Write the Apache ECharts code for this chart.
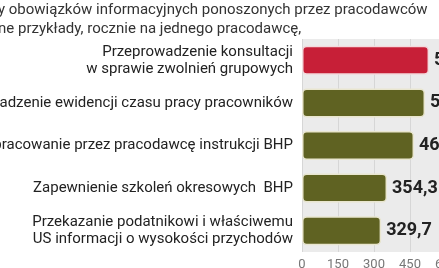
<!DOCTYPE html>
<html>
<head>
<meta charset="utf-8">
<script src="https://cdn.jsdelivr.net/npm/echarts@6/dist/echarts.min.js"></script>
<style>
  html, body { margin: 0; padding: 0; background: #fff; }
  #chart { width: 439px; height: 268px; }
</style>
</head>
<body>
<div id="chart"></div>
<script>
// dane
const titleLines = [
  'y obowiązków informacyjnych ponoszonych przez pracodawców',
  'ne przykłady, rocznie na jednego pracodawcę,'
];
const categories = [
  'Przeprowadzenie konsultacji\nw sprawie zwolnień grupowych',
  'Prowadzenie ewidencji czasu pracy pracowników',
  'Opracowanie przez pracodawcę instrukcji BHP',
  'Zapewnienie szkoleń okresowych  BHP',
  'Przekazanie podatnikowi i właściwemu\nUS informacji o wysokości przychodów'
];
const values = [529.4, 512.6, 466.8, 354.3, 329.7];
const barColors = ['#c71f37', '#5f6222', '#5f6222', '#5f6222', '#5f6222'];
const borderColors = ['#f3d9dc', '#e9e6cf', '#e9e6cf', '#e9e6cf', '#e9e6cf'];
const ticks = [0, 150, 300, 450, 600];

const myChart = echarts.init(document.getElementById('chart'));

const option = {
  backgroundColor: '#fff',
  animation: false,
  // tytuł przycięty z lewej, jak w oryginale
  graphic: [
    {
      type: 'text',
      x: -2,
      y: 1,
      style: {
        text: titleLines.join('\n'),
        fontFamily: 'Roboto',
        fontSize: 15,
        lineHeight: 19,
        fill: '#333'
      }
    }
  ],
  grid: {
    left: 302,
    right: -7,
    top: 39,
    bottom: 16,
    containLabel: false,
    outerBoundsMode: 'none',
    show: true,
    backgroundColor: '#ebebeb',
    borderWidth: 0
  },
  xAxis: {
    type: 'value',
    min: ticks[0],
    max: ticks[ticks.length - 1],
    interval: 150,
    axisLine: { show: false },
    axisTick: { show: false },
    splitLine: { lineStyle: { color: '#d6d6d6', width: 1 } },
    axisLabel: {
      margin: 6,
      fontFamily: 'Roboto',
      fontSize: 13,
      color: '#777',
      hideOverlap: false
    }
  },
  yAxis: {
    type: 'category',
    inverse: true,
    data: categories,
    axisLine: { show: false },
    axisTick: { show: false },
    axisLabel: {
      margin: 9,
      fontFamily: 'Roboto',
      fontSize: 15,
      lineHeight: 17,
      color: '#222',
      align: 'right'
    }
  },
  series: [
    {
      type: 'bar',
      barWidth: 29,
      data: values.map(function (v, i) {
        return {
          value: v,
          itemStyle: { color: barColors[i], borderColor: borderColors[i] }
        };
      }),
      itemStyle: {
        borderWidth: 1.5,
        borderRadius: 4
      },
      label: {
        show: true,
        position: 'right',
        distance: 5,
        fontFamily: 'Roboto',
        fontWeight: 'bold',
        fontSize: 18,
        color: '#222',
        formatter: function (p) {
          return p.value.toFixed(1).replace('.', ',');
        }
      }
    }
  ]
};

myChart.setOption(option);
</script>
</body>
</html>
